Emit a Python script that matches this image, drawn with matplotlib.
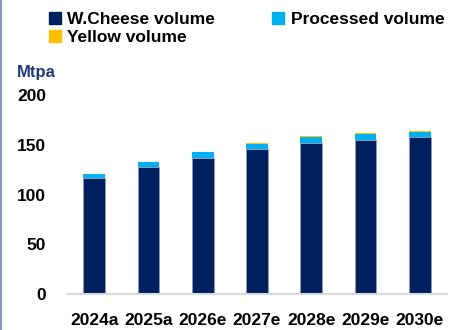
import numpy as np
import matplotlib.pyplot as plt
from matplotlib.patches import Patch

plt.rcParams['font.family'] = ['Liberation Sans', 'DejaVu Sans']

# Volumes by year (Mtpa)
years = ['2024a', '2025a', '2026e', '2027e', '2028e', '2029e', '2030e']
white_cheese = [117, 127.3, 137, 145.7, 152, 155, 158]
processed = [3.6, 5.6, 5.7, 5.5, 5.7, 5.9, 5.3]
yellow = [0.2, 0.2, 0.2, 0.4, 0.8, 0.5, 0.6]

navy = '#002060'
cyan = '#00B0F0'
gold = '#FFC000'

fig = plt.figure(figsize=(4.56, 3.3), dpi=100)
ax = fig.add_axes([0.147, 0.109, 0.833, 0.603])

x = np.arange(len(years))
w = 0.4
wc = np.array(white_cheese)
pr = np.array(processed)
ye = np.array(yellow)
ax.bar(x, wc, w, color=navy, edgecolor='#8a9bbf', linewidth=0.6)
ax.bar(x, pr, w, bottom=wc, color=cyan, linewidth=0)
ax.bar(x, ye, w, bottom=wc + pr, color=gold, linewidth=0)

ax.set_xlim(-0.5, len(years) - 0.5)
ax.set_ylim(0, 200)
ax.set_yticks([0, 50, 100, 150, 200])
ax.set_xticks(x)
ax.set_xticklabels(years)
ax.tick_params(axis='both', length=0, labelsize=12.5)
ax.tick_params(axis='x', pad=14)
ax.tick_params(axis='y', pad=15)
for lab in ax.get_xticklabels() + ax.get_yticklabels():
    lab.set_fontweight('bold')
for s in ['top', 'right', 'left']:
    ax.spines[s].set_visible(False)
ax.spines['bottom'].set_color('#d9d9d9')
ax.spines['bottom'].set_linewidth(1.5)

fig.text(0.037, 0.78, 'Mtpa', color='#1F3A78', fontsize=12,
         fontweight='bold', va='center')

handles = [Patch(color=navy), Patch(color=cyan), Patch(color=gold)]
labels = ['W.Cheese volume', 'Processed volume', 'Yellow volume']
leg = fig.legend([handles[0], handles[2], handles[1]],
                 [labels[0], labels[2], labels[1]],
                 loc='upper left', bbox_to_anchor=(0.073, 1.012), ncol=2,
                 frameon=False, handlelength=0.7, handleheight=0.7,
                 handletextpad=0.35, columnspacing=3.3, labelspacing=0.2,
                 prop={'weight': 'bold', 'size': 12.5})

# thin frame line on the left edge
fig.add_artist(plt.Line2D([0.002, 0.002], [0, 1], color='#8a9bbf', linewidth=1.5))

fig.savefig('out.png', dpi=100)
